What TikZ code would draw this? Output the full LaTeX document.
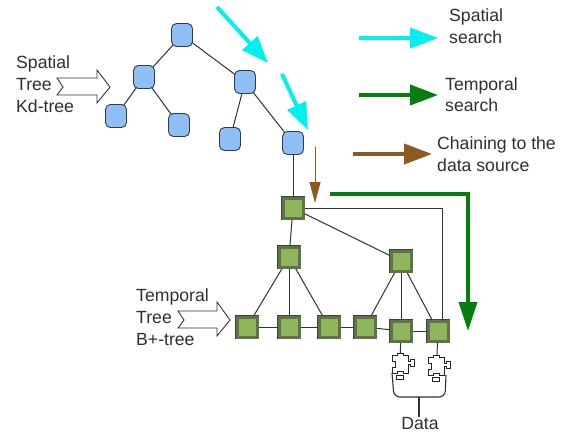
\documentclass[tikz,border=0pt]{standalone}
\usepackage{fontspec}
\setmainfont{Liberation Sans}
\usetikzlibrary{arrows.meta,backgrounds}
\definecolor{cyanarrow}{RGB}{0,240,240}
\definecolor{greenarrow}{RGB}{5,125,15}
\definecolor{brownarrow}{RGB}{140,90,35}
\definecolor{bluefill}{RGB}{143,192,245}
\definecolor{blueedge}{RGB}{45,60,80}
\definecolor{greenfill}{RGB}{143,182,90}
\definecolor{greenedge}{RGB}{95,115,75}
\definecolor{linegray}{RGB}{50,50,50}
\definecolor{textgray}{RGB}{50,45,50}
\tikzset{
  x=1bp,y=-1bp,
  kdnode/.style={rectangle,rounded corners=5bp,
    draw=blueedge,line width=0.9bp,fill=bluefill,minimum width=21bp,minimum height=23bp,inner sep=0pt},
  bnode/.style={rectangle,draw=greenedge,line width=3bp,fill=greenfill,minimum size=20bp,inner sep=0pt,
    preaction={draw=black!75,line width=4bp}},
  link/.style={draw=linegray,line width=1bp},
  thin link/.style={draw=linegray,line width=0.7bp},
  bigsearch/.style={line width=4bp,-{Triangle[length=27bp,width=20bp]}},
  fat/.style={line width=3.6bp,-{Triangle[length=29bp,width=18bp]}},
  hollow/.style={draw=black!80,line width=0.9bp,fill=white,line join=miter},
  lbl/.style={text=textgray,font=\fontsize{17.7}{17.7}\selectfont,inner sep=0pt,anchor=base west},
  databr/.style={draw=linegray,line width=1.1bp,rounded corners=6bp},
  pzl/.style={draw=black!85,line width=0.9bp,fill=white},
  pics/puzzle/.style={code={
    \draw[pzl] (-8,-9) -- (-3,-9) -- (-3,-11) -- (3,-11) -- (3,-9) -- (8,-9) -- (8,-3) -- (10,-3) -- (10,-5) -- (14,-5) -- (14,2) -- (10,2) -- (10,0) -- (8,0) -- (8,9) -- (3,9) -- (3,7) -- (-3,7) -- (-3,9) -- (-8,9) -- (-8,3) -- (-5,3) -- (-5,-3) -- (-8,-3) -- cycle;
    \draw[pzl] (-4,11) rectangle (3,15);
  }}
}
\begin{document}
\begin{tikzpicture}
\useasboundingbox (0,0) rectangle (566,432);

% Kd-tree nodes
\node[kdnode] (k0) at (182,35) {};
\node[kdnode] (k1) at (144,77) {};
\node[kdnode] (k2) at (245,82) {};
\node[kdnode] (k3) at (116,116) {};
\node[kdnode] (k4) at (179,125) {};
\node[kdnode] (k5) at (230,139) {};
\node[kdnode] (k6) at (293,143) {};

% B+-tree nodes
\node[bnode] (b0) at (293,208) {};
\node[bnode] (b1) at (289,257) {};
\node[bnode] (b2) at (401,261) {};
\node[bnode] (l1) at (247,327) {};
\node[bnode] (l2) at (289,327) {};
\node[bnode] (l3) at (329,327) {};
\node[bnode] (l4) at (365,327) {};
\node[bnode] (l5) at (401,331) {};
\node[bnode] (l6) at (438,331) {};

\coordinate (corner) at (442,208.5);
\coordinate (cdrop) at (442,320);
\coordinate (p1) at (400,364);
\coordinate (p2) at (436.5,366);

% Links, behind the nodes
\begin{scope}[on background layer]
\fill[white] (0,0) rectangle (566,432);
\draw[link] (k0.center) -- (k1.center);
\draw[link] (k0.center) -- (k2.center);
\draw[link] (k1.center) -- (k3.center);
\draw[link] (k1.center) -- (k4.center);
\draw[link] (k2.center) -- (k5.center);
\draw[link] (k2.center) -- (k6.center);
\draw[link] (k6.center) -- (b0.center);
\draw[link] (b0.center) -- (b1.center);
\draw[link] (b0.center) -- (b2.center);
\draw[link] (b1.center) -- (l1.center);
\draw[link] (b1.center) -- (l2.center);
\draw[link] (b1.center) -- (l3.center);
\draw[link] (b2.center) -- (l4.center);
\draw[link] (b2.center) -- (l5.center);
\draw[link] (b2.center) -- (l6.center);
\draw[link] (l1.center) -- (l2.center);
\draw[link] (l2.center) -- (l3.center);
\draw[link] (l3.center) -- (l4.center);
\draw[link] (l4.center) -- (l5.center);
\draw[link] (l5.center) -- (l6.center);
\draw[thin link] (b0.center |- corner) -- (corner) -- (cdrop);
\draw[link] (l5.center) -- (p1);
\draw[link] (l6.center) -- (p2);
\end{scope}

% Data sources
\pic at (p1) {puzzle};
\pic at (p2) {puzzle};
\node[lbl,anchor=base] (data) at (420,429) {Data};
\coordinate (dl) at (392,373);
\coordinate (dr) at (446,375);
\coordinate (dm) at (419,397);
\coordinate (dn) at (419,417);
\draw[databr] (dl) -- (394,397) -- (dm);
\draw[databr] (dr) -- (445,397) -- (dm);
\draw[databr] (dm) -- (dn);

% Search arrows
\coordinate (c1a) at (217,7);
\coordinate (c1b) at (268,63);
\coordinate (c2a) at (282,74);
\coordinate (c2b) at (308,130);
\draw[cyanarrow,bigsearch] (c1a) -- (c1b);
\draw[cyanarrow,bigsearch] (c2a) -- (c2b);
\coordinate (br1) at (315,147);
\coordinate (br2) at (315,203);
\draw[brownarrow,line width=1bp,-{Triangle[length=21bp,width=11bp]}] (br1) -- (br2);
\coordinate (g1) at (330,194);
\coordinate (g2) at (468,194);
\coordinate (g3) at (468,331);
\draw[greenarrow,fat] (g1) -- (g2) -- (g3);

% Legend
\coordinate (la1) at (359,38); \coordinate (la2) at (438,38);
\coordinate (lb1) at (359,95); \coordinate (lb2) at (438,95);
\coordinate (lc1) at (353,154); \coordinate (lc2) at (432,154);
\draw[cyanarrow,line width=4bp,-{Triangle[length=28bp,width=20bp]}] (la1) -- (la2);
\draw[greenarrow,line width=4bp,-{Triangle[length=28bp,width=20bp]}] (lb1) -- (lb2);
\draw[brownarrow,line width=4bp,-{Triangle[length=28bp,width=20bp]}] (lc1) -- (lc2);

% Hollow arrows
\draw[hollow] (57,78) -- (97,78) -- (97,70) -- (110,87) -- (97,103) -- (97,95) -- (57,95) -- (63,87) -- cycle;
\draw[hollow] (178,311) -- (217,311) -- (217,302) -- (230,320) -- (217,336) -- (217,328) -- (178,328) -- (184,320) -- cycle;

% Labels
\node[lbl] (t1) at (16,68) {Spatial};
\node[lbl] (t2) at (16,90) {Tree};
\node[lbl] (t3) at (16,112) {Kd-tree};
\node[lbl] (t4) at (136,301) {Temporal};
\node[lbl] (t5) at (136,323) {Tree};
\node[lbl] (t6) at (136,345) {B+-tree};
\node[lbl] (t7) at (449,21) {Spatial};
\node[lbl] (t8) at (449,43) {search};
\node[lbl] (t9) at (445,90) {Temporal};
\node[lbl] (t10) at (445,111) {search};
\node[lbl] (t11) at (437,149) {Chaining to the};
\node[lbl] (t12) at (437,171) {data source};
\end{tikzpicture}
\end{document}
